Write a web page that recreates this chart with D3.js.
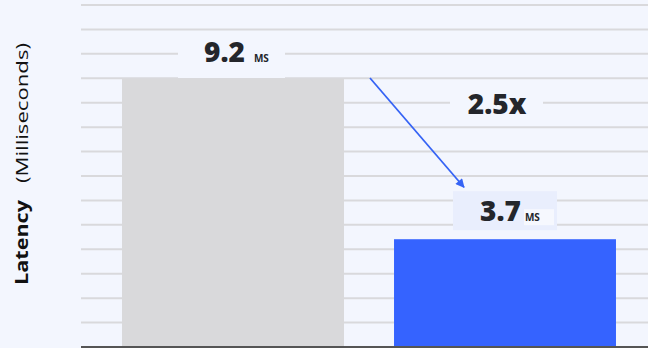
<!DOCTYPE html>
<html>
<head>
<meta charset="utf-8">
<script src="https://cdn.jsdelivr.net/npm/d3@7"></script>
<style>
  html, body { margin: 0; padding: 0; background: #f3f6fe; }
  svg { display: block; }
</style>
</head>
<body>
<svg id="chart" width="648" height="348"></svg>
<script>
const categories = ['Before', 'After'];
const latency = [9.2, 3.7];
const valueLabels = ['9.2', '3.7'];
const unitLabel = 'MS';
const speedup = '2.5x';
const gridCount = 14;

const width = 648, height = 348;
const font = '"Open Sans", "DejaVu Sans", sans-serif';
const bg = '#f3f6fe';
const barColors = ['#d9d9db', '#3563ff'];

const svg = d3.select('#chart');

const x = d3.scaleBand()
  .domain(categories)
  .range([97, 641])
  .paddingInner(0.184)
  .paddingOuter(0.092);

const y = d3.scaleLinear()
  .domain([0, 11.74])
  .range([347, 5]);

// grid lines: evenly spaced, not tied to data ticks
const gridY = d3.scaleLinear().domain([0, gridCount]).range([347, 5]);
svg.append('g')
  .selectAll('line')
  .data(d3.range(1, gridCount + 1))
  .join('line')
  .attr('x1', 81).attr('x2', width)
  .attr('y1', d => gridY(d)).attr('y2', d => gridY(d))
  .attr('stroke', '#d9d9dc')
  .attr('stroke-width', 2);

// bars
svg.append('g')
  .selectAll('rect')
  .data(categories)
  .join('rect')
  .attr('x', d => x(d))
  .attr('width', x.bandwidth())
  .attr('y', (d, i) => y(latency[i]))
  .attr('height', (d, i) => y(0) - y(latency[i]))
  .attr('fill', (d, i) => barColors[i]);

// baseline
svg.append('line')
  .attr('x1', 81).attr('x2', width)
  .attr('y1', y(0)).attr('y2', y(0))
  .attr('stroke', '#555')
  .attr('stroke-width', 2);

// value label over bar 1 (box hides grid)
const c0 = x(categories[0]) + x.bandwidth() / 2;
const top0 = y(latency[0]);
svg.append('rect')
  .attr('x', c0 - 55).attr('y', top0 - 44)
  .attr('width', 107).attr('height', 43)
  .attr('fill', bg);
const t0 = svg.append('text')
  .attr('x', c0 - 29).attr('y', top0 - 17)
  .attr('font-family', font)
  .attr('fill', '#24262b');
t0.append('tspan').attr('font-size', 28).attr('font-weight', 800).text(valueLabels[0]);
t0.append('tspan').attr('dx', 9).attr('font-size', 10).attr('font-weight', 700).text(unitLabel);

// value label over bar 2
const c1 = x(categories[1]) + x.bandwidth() / 2;
const top1 = y(latency[1]);
const box1Top = top1 - 48;
svg.append('rect')
  .attr('x', c1 - 52).attr('y', box1Top)
  .attr('width', 104).attr('height', 39)
  .attr('fill', '#e9eefd');
svg.append('rect')
  .attr('x', c1 + 19).attr('y', box1Top + 18)
  .attr('width', 30).attr('height', 16)
  .attr('fill', '#f6f8fe');
const t1 = svg.append('text')
  .attr('x', c1 - 25).attr('y', box1Top + 30)
  .attr('font-family', font)
  .attr('fill', '#24262b');
t1.append('tspan').attr('font-size', 28).attr('font-weight', 800).text(valueLabels[1]);
t1.append('tspan').attr('dx', 4).attr('font-size', 10).attr('font-weight', 700).text(unitLabel);

// speedup label
const sx = 497, sy = gridY(10);
svg.append('rect')
  .attr('x', sx - 47).attr('y', sy - 16)
  .attr('width', 93).attr('height', 32)
  .attr('fill', bg);
svg.append('text')
  .attr('x', sx).attr('y', sy + 11)
  .attr('text-anchor', 'middle')
  .attr('font-family', font)
  .attr('font-size', 28)
  .attr('font-weight', 800)
  .attr('fill', '#24262b')
  .text(speedup);

// arrow
svg.append('defs').append('marker')
  .attr('id', 'head')
  .attr('viewBox', '0 0 10 10')
  .attr('refX', 9).attr('refY', 5)
  .attr('markerWidth', 10).attr('markerHeight', 9)
  .attr('markerUnits', 'userSpaceOnUse')
  .attr('orient', 'auto')
  .append('path')
  .attr('d', 'M0,0 L10,5 L0,10 Z')
  .attr('fill', '#3563f5');
const ax0 = x(categories[0]) + x.bandwidth() + 26;
svg.append('line')
  .attr('x1', ax0).attr('y1', top0 - 1)
  .attr('x2', c1 - 41).attr('y2', box1Top - 4)
  .attr('stroke', '#3563f5')
  .attr('stroke-width', 1.8)
  .attr('marker-end', 'url(#head)');

// y axis title, widened to the wide face of the original
const yt = svg.append('text')
  .attr('transform', 'translate(28, 285) rotate(-90)')
  .attr('font-family', font)
  .attr('font-size', 17)
  .attr('fill', '#111');
yt.append('tspan').attr('font-weight', 700)
  .attr('textLength', 85).attr('lengthAdjust', 'spacingAndGlyphs')
  .text('Latency');
yt.append('tspan').attr('dx', 17).attr('font-weight', 400)
  .attr('textLength', 140).attr('lengthAdjust', 'spacingAndGlyphs')
  .text('(Milliseconds)');
</script>
</body>
</html>
